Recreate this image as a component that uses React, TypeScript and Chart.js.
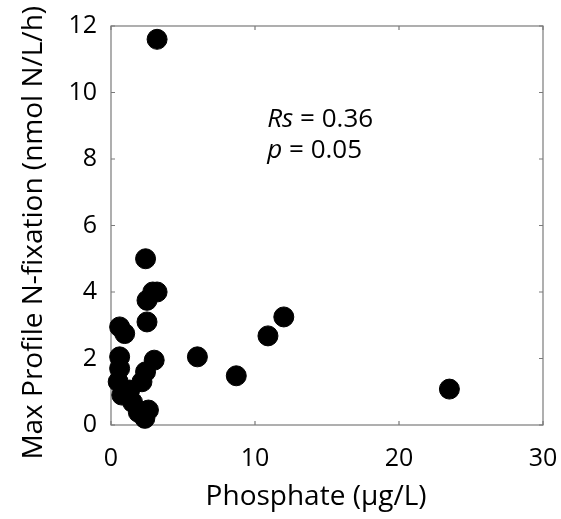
import React, { useEffect, useRef } from "react";
import { Chart, registerables } from "chart.js";

Chart.register(...registerables);

const phosphate = [3.2, 2.4, 2.9, 3.2, 2.5, 2.5, 0.6, 0.95, 3.0, 0.6, 0.6, 2.4, 2.15, 0.5, 0.75, 1.3, 1.5, 1.9, 2.35, 2.6, 6.0, 8.7, 10.9, 12.0, 23.5];
const nfix = [11.6, 5.0, 4.0, 4.0, 3.75, 3.1, 2.95, 2.75, 1.95, 2.05, 1.7, 1.6, 1.3, 1.3, 0.9, 1.05, 0.68, 0.38, 0.2, 0.45, 2.05, 1.48, 2.68, 3.25, 1.08];
const xTicks = [0, 10, 20, 30];
const yTicks = [0, 2, 4, 6, 8, 10, 12];
const statsText = [
  { italic: "Rs", rest: " = 0.36", x: 10.85, y: 8.95 },
  { italic: "p", rest: " = 0.05", x: 10.85, y: 8.03 },
];

const FONT = "'Open Sans', sans-serif";
const AXIS_COLOR = "#7a7a7a";

const framePlugin = {
  id: "frame",
  beforeDatasetsDraw(chart: any) {
    const { ctx, chartArea: a, scales } = chart;
    ctx.save();
    ctx.strokeStyle = AXIS_COLOR;
    ctx.lineWidth = 1.2;
    ctx.strokeRect(a.left, a.top, a.right - a.left, a.bottom - a.top);
    const t = 4;
    ctx.beginPath();
    for (const v of xTicks) {
      const px = scales.x.getPixelForValue(v);
      ctx.moveTo(px, a.bottom);
      ctx.lineTo(px, a.bottom - t);
      ctx.moveTo(px, a.top);
      ctx.lineTo(px, a.top + t);
    }
    for (const v of yTicks) {
      const py = scales.y.getPixelForValue(v);
      ctx.moveTo(a.left, py);
      ctx.lineTo(a.left + t, py);
      ctx.moveTo(a.right, py);
      ctx.lineTo(a.right - t, py);
    }
    ctx.stroke();
    ctx.restore();
  },
  afterDraw(chart: any) {
    const { ctx, scales } = chart;
    ctx.save();
    ctx.fillStyle = "#000";
    ctx.textBaseline = "alphabetic";
    for (const s of statsText) {
      const px = scales.x.getPixelForValue(s.x);
      const py = scales.y.getPixelForValue(s.y);
      ctx.font = `italic 26px ${FONT}`;
      ctx.fillText(s.italic, px, py);
      const w = ctx.measureText(s.italic).width;
      ctx.font = `26px ${FONT}`;
      ctx.fillText(s.rest, px + w, py);
    }
    ctx.restore();
  },
};

export default function App() {
  const ref = useRef<HTMLCanvasElement | null>(null);
  useEffect(() => {
    if (!ref.current) return;
    const chart = new Chart(ref.current, {
      type: "scatter",
      data: {
        datasets: [
          {
            data: phosphate.map((x, i) => ({ x, y: nfix[i] })),
            backgroundColor: "#000",
            borderColor: "#000",
            pointRadius: 10,
            pointHoverRadius: 10,
            clip: false as any,
          },
        ],
      },
      options: {
        animation: false,
        responsive: false,
        events: [],
        layout: { padding: { left: 0, top: 26, right: 18, bottom: 0 } },
        plugins: { legend: { display: false }, tooltip: { enabled: false } },
        scales: {
          x: {
            type: "linear",
            min: 0,
            max: 30,
            afterBuildTicks: (s: any) => {
              s.ticks = xTicks.map((v) => ({ value: v }));
            },
            afterFit: (s: any) => {
              s.height = 94;
              s.paddingLeft = 0;
              s.paddingRight = 0;
            },
            grid: { display: false, drawTicks: false },
            border: { display: false },
            ticks: { color: "#000", font: { family: FONT, size: 25 }, padding: 19, maxRotation: 0 },
            title: {
              display: true,
              text: "Phosphate (μg/L)   ",
              color: "#000",
              font: { family: FONT, size: 28 },
              padding: { top: 0, bottom: 5 },
            },
          },
          y: {
            type: "linear",
            min: 0,
            max: 12,
            afterBuildTicks: (s: any) => {
              s.ticks = yTicks.map((v) => ({ value: v }));
            },
            afterFit: (s: any) => {
              s.width = 111;
              s.paddingTop = 0;
              s.paddingBottom = 0;
            },
            grid: { display: false, drawTicks: false },
            border: { display: false },
            ticks: { color: "#000", font: { family: FONT, size: 25 }, padding: 14 },
            title: {
              display: true,
              text: "Max Profile N-fixation (nmol N/L/h)  ",
              color: "#000",
              font: { family: FONT, size: 28 },
              padding: { top: 17, bottom: 0 },
            },
          },
        },
      },
      plugins: [framePlugin],
    });
    return () => chart.destroy();
  }, []);
  return (
    <div style={{ position: "fixed", left: 0, top: 0, width: 561, height: 519, background: "#fff" }}>
      <canvas ref={ref} width={561} height={519} style={{ width: 561, height: 519 }} />
    </div>
  );
}
